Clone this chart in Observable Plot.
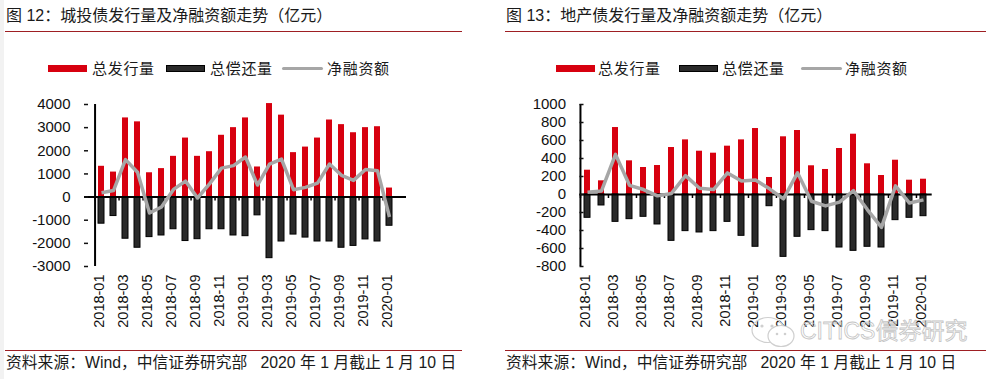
<!DOCTYPE html>
<html>
<head>
<meta charset="utf-8">
<script src="https://cdn.jsdelivr.net/npm/d3@7"></script>
<script src="https://cdn.jsdelivr.net/npm/@observablehq/plot@0.6"></script>
<style>
  html, body { margin: 0; padding: 0; background: #fff; }
  body { width: 996px; height: 379px; position: relative; overflow: hidden;
         font-family: "Liberation Sans", Arial, "Noto Sans CJK SC", sans-serif; color: #111; }
  .abs { position: absolute; }
  .title { font-family: "Liberation Sans", "Noto Sans CJK SC", sans-serif; font-size: 16px; line-height: 18px; white-space: pre; color: #1a1a1a; }
  .rule { height: 1.5px; background: #9e1f23; }
  .leg { font-family: "Noto Sans CJK SC", sans-serif; font-size: 15px; line-height: 18px; letter-spacing: 0.7px; color: #1a1a1a; }
  .sw-red { height: 7px; background: #d7000f; }
  .sw-blk { height: 5px; background: #2a2a2a; border: 1px solid #000; }
  .sw-gry { height: 3.5px; background: #a6a6a6; border-radius: 2px; }
  .src { font-family: "Liberation Sans", "Noto Sans CJK SC", sans-serif; font-size: 15.8px; line-height: 18px; white-space: pre; color: #1a1a1a; }
  .wm { font-family: "Liberation Sans", "Noto Sans CJK SC", sans-serif; font-size: 23px; line-height: 26px; color: transparent; -webkit-text-stroke: 0.8px #c4c4c4; white-space: pre; }
</style>
</head>
<body>
<div class="abs" style="left:0;top:0;width:4px;height:379px;background:#f2f2f2"></div>

<!-- Left panel texts -->
<div class="abs title" style="left:6px;top:7px">图 12：城投债发行量及净融资额走势（亿元）</div>
<div class="abs rule" style="left:5px;top:30.5px;width:457px"></div>
<div class="abs sw-red" style="left:48px;top:64.5px;width:39px"></div>
<div class="abs leg" style="left:92px;top:59px">总发行量</div>
<div class="abs sw-blk" style="left:166px;top:64.5px;width:37px"></div>
<div class="abs leg" style="left:210px;top:59px">总偿还量</div>
<div class="abs sw-gry" style="left:282px;top:66.5px;width:41px"></div>
<div class="abs leg" style="left:327px;top:59px">净融资额</div>
<div class="abs rule" style="left:5px;top:349.5px;width:457px"></div>
<div class="abs src" style="left:6px;top:354px">资料来源：Wind，中信证券研究部   2020 年 1 月截止 1 月 10 日</div>

<!-- Right panel texts -->
<div class="abs title" style="left:506px;top:7px">图 13：地产债发行量及净融资额走势（亿元）</div>
<div class="abs rule" style="left:505px;top:30.5px;width:481px"></div>
<div class="abs sw-red" style="left:556px;top:64.5px;width:39px"></div>
<div class="abs leg" style="left:598px;top:59px">总发行量</div>
<div class="abs sw-blk" style="left:679px;top:64.5px;width:37px"></div>
<div class="abs leg" style="left:722px;top:59px">总偿还量</div>
<div class="abs sw-gry" style="left:801px;top:66.5px;width:41px"></div>
<div class="abs leg" style="left:845px;top:59px">净融资额</div>
<div class="abs rule" style="left:505px;top:349.5px;width:481px"></div>
<div class="abs src" style="left:506px;top:354px">资料来源：Wind，中信证券研究部   2020 年 1 月截止 1 月 10 日</div>

<div id="left" class="abs" style="left:0;top:90px"></div>
<div id="right" class="abs" style="left:500px;top:90px"></div>

<!-- watermark -->
<svg class="abs" style="left:748px;top:314px" width="52" height="36">
  <ellipse cx="20" cy="16" rx="16" ry="12.5" fill="none" stroke="#cfcfcf" stroke-width="1.2"/>
  <ellipse cx="33" cy="22" rx="13" ry="10.5" fill="#fff" stroke="#cfcfcf" stroke-width="1.2"/>
  <circle cx="14" cy="12" r="1.6" fill="#cfcfcf"/><circle cx="24" cy="12" r="1.6" fill="#cfcfcf"/>
  <circle cx="29" cy="20" r="1.3" fill="#cfcfcf"/><circle cx="37" cy="20" r="1.3" fill="#cfcfcf"/>
</svg>
<div class="abs wm" style="left:800px;top:318px">CITICS债券研究</div>

<script>
// ---- data ----
const months = ["2018-01","2018-02","2018-03","2018-04","2018-05","2018-06","2018-07","2018-08","2018-09","2018-10","2018-11","2018-12",
                "2019-01","2019-02","2019-03","2019-04","2019-05","2019-06","2019-07","2019-08","2019-09","2019-10","2019-11","2019-12","2020-01"];
const monthLabels = months.filter((d, i) => i % 2 === 0);

// 城投债 (亿元)
const ctIssue = [1330,1080,3420,3250,1050,1230,1760,2550,1760,1960,2670,3000,3420,1300,4040,3540,1920,2160,2550,3330,3130,2780,3000,3040,390];
const ctRepay = [-1150,-820,-1800,-2190,-1730,-1660,-1390,-1900,-1820,-1390,-1390,-1660,-1690,-790,-2640,-1920,-1620,-1750,-1920,-1920,-2190,-2110,-1830,-1920,-1240];
const ctNet   = [190,280,1620,1070,-690,-430,330,690,-40,570,1250,1360,1730,520,1420,1640,320,420,600,1430,940,720,1190,1140,-860];
const ctYTicks = [-3000,-2000,-1000,0,1000,2000,3000,4000];

// 地产债 (亿元)
const reIssue = [270,152,744,374,300,322,522,607,481,459,537,607,733,189,641,711,319,278,511,670,341,211,381,159,170];
const reRepay = [-259,-122,-304,-274,-248,-333,-515,-407,-422,-407,-304,-459,-581,-130,-693,-470,-396,-407,-589,-626,-581,-589,-285,-259,-241];
const reNet   = [25,40,446,102,55,-15,12,210,70,55,240,150,160,63,-48,241,-75,-127,-85,42,-170,-365,96,-95,-60];
const reYTicks = [-800,-600,-400,-200,0,200,400,600,800,1000];

const RED = "#d7000f", DARK = "#2a2a2a", GRAY = "#a6a6a6";

function panel({issue, repay, net, yDomain, yTicks, width, height, marginLeft, marginRight, marginTop, marginBottom}) {
  const data = months.map((m, i) => ({m, issue: issue[i], repay: repay[i], net: net[i]}));
  const plotH = height - marginTop - marginBottom;
  const step = (width - marginLeft - marginRight) / months.length;
  const unitsPerPx = (yDomain[1] - yDomain[0]) / plotH;
  const pad = 0.54;
  return Plot.plot({
    width, height, marginLeft, marginRight, marginTop, marginBottom,
    style: {fontFamily: "'Liberation Sans', Arial, sans-serif", color: "#111", background: "transparent", overflow: "visible"},
    x: {type: "band", domain: months, paddingInner: pad, paddingOuter: pad / 2, label: null},
    y: {domain: yDomain, label: null},
    marks: [
      Plot.barY(data, {x: "m", y: "issue", fill: RED}),
      Plot.barY(data, {x: "m", y: "repay", fill: DARK, stroke: "#000", strokeWidth: 1}),
      Plot.ruleY([0], {stroke: "#000", strokeWidth: 2}),
      Plot.ruleX(monthLabels, {x: d => d, y1: 0, y2: -4 * unitsPerPx, dx: -step / 2, stroke: "#000", strokeWidth: 1.5}),
      Plot.ruleX([months[0]], {x: d => d, y1: yDomain[0], y2: yDomain[1], dx: -step / 2, stroke: "#000", strokeWidth: 2}),
      Plot.line(data, {x: "m", y: "net", stroke: GRAY, strokeWidth: 3.5, strokeLinejoin: "round", strokeLinecap: "butt"}),
      Plot.axisY({ticks: yTicks, tickSize: -4, tickPadding: 18, fontSize: 15, label: null, strokeWidth: 1.5, tickFormat: d => String(d)}),
      Plot.axisX({ticks: monthLabels, tickSize: 0, tickRotate: -90, tickPadding: 8, fontSize: 14.5, dx: -2, label: null})
    ]
  });
}

document.getElementById("left").appendChild(panel({
  issue: ctIssue, repay: ctRepay, net: ctNet, yDomain: [-3000, 4000], yTicks: ctYTicks,
  width: 480, height: 250, marginLeft: 84, marginRight: 74, marginTop: 14, marginBottom: 74
}));
document.getElementById("right").appendChild(panel({
  issue: reIssue, repay: reRepay, net: reNet, yDomain: [-800, 1000], yTicks: reYTicks,
  width: 496, height: 250, marginLeft: 79.5, marginRight: 64.3, marginTop: 14, marginBottom: 74
}));
</script>
</body>
</html>
